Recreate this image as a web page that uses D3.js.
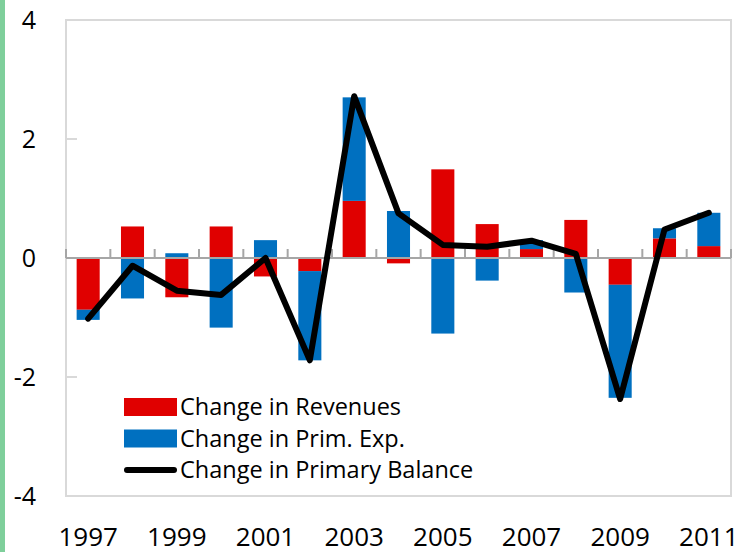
<!DOCTYPE html>
<html>
<head>
  <meta charset="UTF-8">
  <title>Primary balance decomposition</title>
  <style>
    body { margin: 0; background: #fff; }
    svg { display: block; }
    text { font-family: "Open Sans", sans-serif; fill: #000; }
  </style>
  <script src="https://d3js.org/d3.v7.min.js"></script>
</head>
<body>
  <svg id="chart" width="740" height="552"></svg>
  <script>
    const years = [1997, 1998, 1999, 2000, 2001, 2002, 2003, 2004, 2005, 2006, 2007, 2008, 2009, 2010, 2011];
    const revenues = [-0.87, 0.53, -0.66, 0.53, -0.31, -0.22, 0.96, -0.09, 1.49, 0.57, 0.15, 0.64, -0.45, 0.33, 0.20];
    const primExp = [-0.17, -0.68, 0.08, -1.17, 0.30, -1.50, 1.74, 0.79, -1.27, -0.38, 0.15, -0.58, -1.90, 0.17, 0.56];
    const balance = [-1.02, -0.13, -0.55, -0.62, 0.00, -1.72, 2.72, 0.75, 0.22, 0.19, 0.29, 0.07, -2.37, 0.48, 0.76];
    const yTicks = [-4, -2, 0, 2, 4];
    const xLabels = [1997, 1999, 2001, 2003, 2005, 2007, 2009, 2011];

    const svg = d3.select('#chart');
    const plotL = 66, plotR = 731, plotT = 20, plotB = 496;

    // green strip on the left edge
    svg.append('rect').attr('x', 0).attr('y', 0).attr('width', 5).attr('height', 552).attr('fill', '#7fcf9b');

    const x = d3.scaleBand().domain(years).range([plotL, plotR]).paddingInner(0.48).paddingOuter(0.24);
    const y = d3.scaleLinear().domain([-4, 4]).range([plotB, plotT]);

    // frame
    svg.append('rect')
      .attr('x', plotL).attr('y', plotT)
      .attr('width', plotR - plotL).attr('height', plotB - plotT)
      .attr('fill', 'none').attr('stroke', '#d9d9d9').attr('stroke-width', 2);

    // y ticks and labels
    svg.append('g').selectAll('line').data(yTicks).join('line')
      .attr('x1', plotL).attr('x2', plotL + 11)
      .attr('y1', d => y(d)).attr('y2', d => y(d))
      .attr('stroke', '#d9d9d9').attr('stroke-width', 2);
    svg.append('g').selectAll('text').data(yTicks).join('text')
      .attr('x', 36).attr('y', d => y(d))
      .attr('dy', '0.36em')
      .attr('text-anchor', 'end')
      .style('font-size', '25px')
      .text(d => d);

    // stacked bars
    const rows = years.map((yr, i) => ({year: yr, rev: revenues[i], exp: primExp[i]}));
    const stack = d3.stack().keys(['rev', 'exp']).offset(d3.stackOffsetDiverging);
    const colors = {rev: '#e00000', exp: '#0070c0'};
    svg.append('g').selectAll('g').data(stack(rows)).join('g')
      .attr('fill', d => colors[d.key])
      .selectAll('rect').data(d => d).join('rect')
      .attr('x', d => x(d.data.year))
      .attr('width', x.bandwidth())
      .attr('y', d => y(Math.max(d[0], d[1])))
      .attr('height', d => Math.abs(y(d[0]) - y(d[1])));

    // zero axis with ticks between categories
    const zero = y(0);
    svg.append('line')
      .attr('x1', plotL).attr('x2', plotR).attr('y1', zero).attr('y2', zero)
      .attr('stroke', '#a6a6a6').attr('stroke-width', 2);
    const bounds = years.map(yr => x(yr) - x.step() * x.paddingInner() / 2).concat([plotR]);
    svg.append('g').selectAll('line').data(bounds).join('line')
      .attr('x1', d => d).attr('x2', d => d)
      .attr('y1', zero).attr('y2', zero - 9)
      .attr('stroke', '#a6a6a6').attr('stroke-width', 2);

    // primary balance line
    const line = d3.line().x((d, i) => x(years[i]) + x.bandwidth() / 2).y(d => y(d));
    svg.append('path').datum(balance)
      .attr('d', line)
      .attr('fill', 'none').attr('stroke', '#000')
      .attr('stroke-width', 6).attr('stroke-linecap', 'round').attr('stroke-linejoin', 'round');

    // x labels
    svg.append('g').selectAll('text').data(xLabels).join('text')
      .attr('x', d => x(d) + x.bandwidth() / 2)
      .attr('y', 546)
      .attr('text-anchor', 'middle')
      .style('font-size', '26px')
      .text(d => d);

    // legend
    const legend = svg.append('g');
    const items = [
      {label: 'Change in Revenues', type: 'rect', color: '#e00000'},
      {label: 'Change in Prim. Exp.', type: 'rect', color: '#0070c0'},
      {label: 'Change in Primary Balance', type: 'line', color: '#000'}
    ];
    items.forEach((it, i) => {
      const cy = 407 + i * 31.5;
      if (it.type === 'rect') {
        legend.append('rect').attr('x', 124).attr('y', cy - 9).attr('width', 53).attr('height', 18).attr('fill', it.color);
      } else {
        legend.append('line').attr('x1', 127).attr('x2', 174).attr('y1', cy).attr('y2', cy)
          .attr('stroke', it.color).attr('stroke-width', 6).attr('stroke-linecap', 'round');
      }
      legend.append('text').attr('x', 180).attr('y', cy).attr('dy', '0.36em')
        .style('font-size', '23.5px').text(it.label);
    });
  </script>
</body>
</html>
